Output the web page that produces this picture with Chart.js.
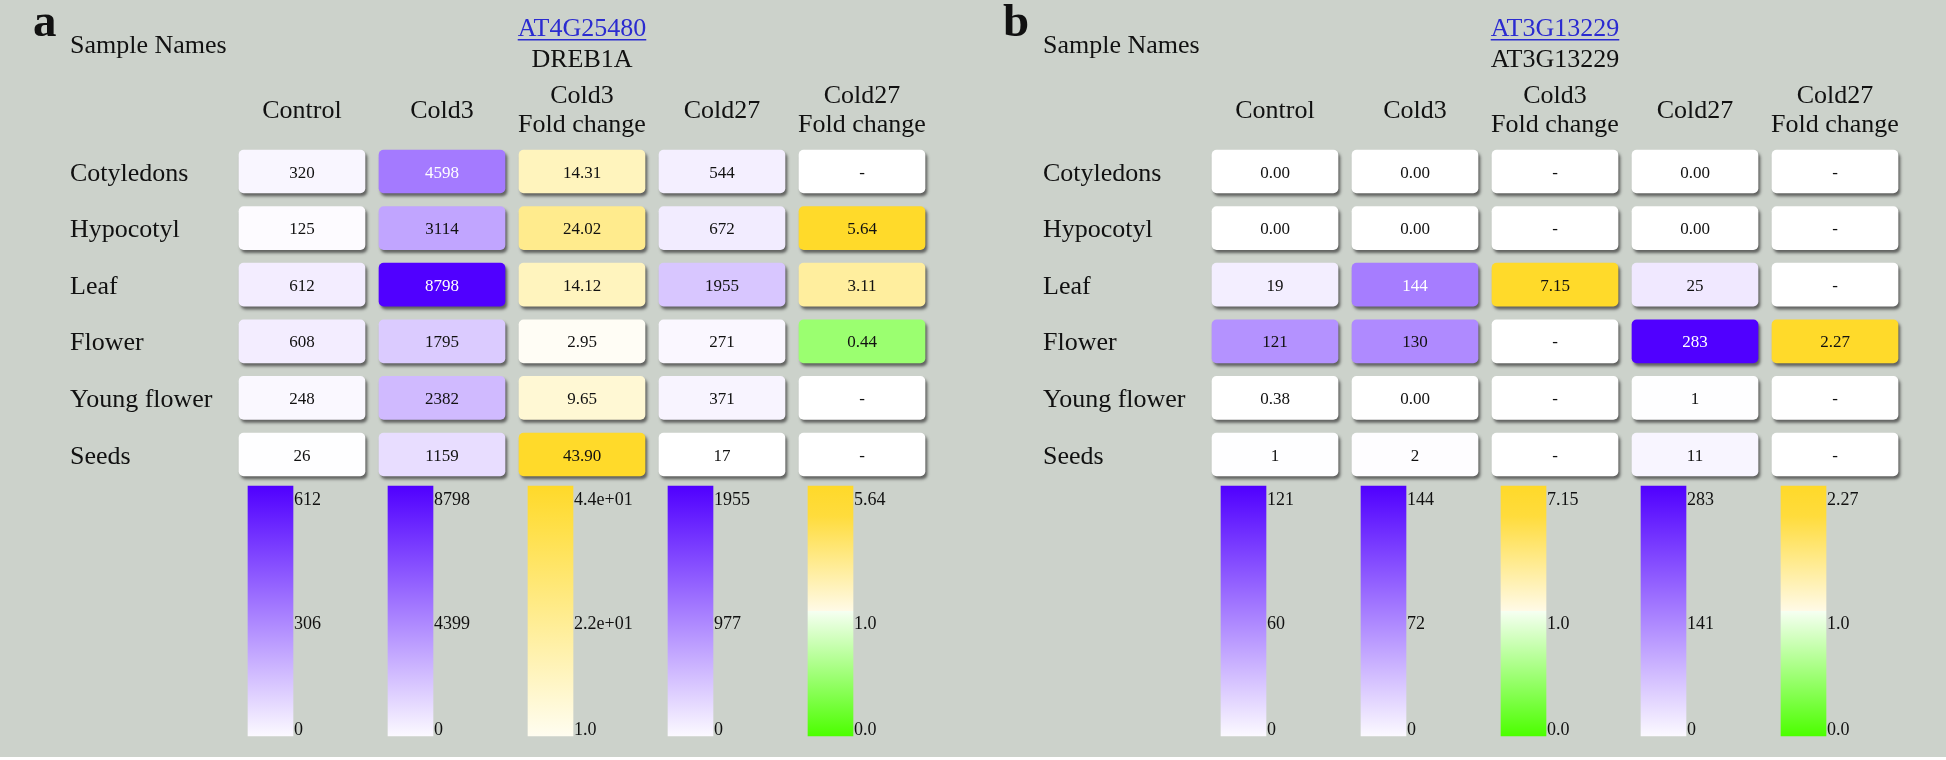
<!DOCTYPE html>
<html>
<head>
<meta charset="utf-8">
<script src="https://cdn.jsdelivr.net/npm/chart.js@4.4.1/dist/chart.umd.min.js"></script>
<style>
  body { margin: 0; background: #fff; }
  #wrap { display: flex; width: 1946px; height: 757px; background: #ccd2cb; }
  canvas { display: block; }
</style>
</head>
<body>
<div id="wrap">
  <canvas id="panelA" width="973" height="757"></canvas>
  <canvas id="panelB" width="973" height="757"></canvas>
</div>
<script>
const rowNames = ["Cotyledons", "Hypocotyl", "Leaf", "Flower", "Young flower", "Seeds"];
const columnHeaders = [["Control"], ["Cold3"], ["Cold3", "Fold change"], ["Cold27"], ["Cold27", "Fold change"]];
const columnKinds = ["raw", "raw", "fold", "raw", "fold"];

// panel a - AT4G25480 / DREB1A
const geneA = ["AT4G25480", "DREB1A"];
const controlA = [320, 125, 612, 608, 248, 26];
const cold3A = [4598, 3114, 8798, 1795, 2382, 1159];
const cold3FoldA = [14.31, 24.02, 14.12, 2.95, 9.65, 43.90];
const cold27A = [544, 672, 1955, 271, 371, 17];
const cold27FoldA = [null, 5.64, 3.11, 0.44, null, null];
const ticksA = [["612", "306", "0"], ["8798", "4399", "0"], ["4.4e+01", "2.2e+01", "1.0"], ["1955", "977", "0"], ["5.64", "1.0", "0.0"]];

// panel b - AT3G13229
const geneB = ["AT3G13229", "AT3G13229"];
const controlB = [0.00, 0.00, 19, 121, 0.38, 1];
const cold3B = [0.00, 0.00, 144, 130, 0.00, 2];
const cold3FoldB = [null, null, 7.15, null, null, null];
const cold27B = [0.00, 0.00, 25, 283, 1, 11];
const cold27FoldB = [null, null, null, 2.27, null, null];
const ticksB = [["121", "60", "0"], ["144", "72", "0"], ["7.15", "1.0", "0.0"], ["283", "141", "0"], ["2.27", "1.0", "0.0"]];

const SERIF = '"Liberation Serif", "Times New Roman", serif';
const PURPLE = [80, 0, 255];
const GOLD = [255, 218, 42];
const GREEN = [76, 255, 0];
const CELL_HALF = 0.38;
const CB_TOP = 5.56, CB_BOTTOM = 9.97, CB_SHIFT = 0.225;

function mix(c, f) {
  f = Math.max(0, Math.min(1, f));
  return 'rgb(' + c.map(v => Math.round(255 - f * (255 - v))).join(',') + ')';
}

function fmt(v, kind) {
  if (v === null) return '-';
  if (kind === 'fold') return v.toFixed(2);
  return v < 1 ? v.toFixed(2) : String(Math.round(v));
}

const panelText = {
  id: 'panelText',
  beforeDatasetDraw(chart, args) {
    if (chart.data.datasets[args.index].role !== 'cell') return;
    const ctx = chart.ctx;
    ctx.save();
    ctx.shadowColor = 'rgba(60,60,60,0.75)';
    ctx.shadowBlur = 3;
    ctx.shadowOffsetX = 2;
    ctx.shadowOffsetY = 3;
  },
  afterDatasetDraw(chart, args) {
    if (chart.data.datasets[args.index].role !== 'cell') return;
    chart.ctx.restore();
  },
  afterDatasetsDraw(chart) {
    const ctx = chart.ctx;
    ctx.save();
    chart.data.datasets.forEach((ds, i) => {
      const meta = chart.getDatasetMeta(i);
      if (ds.role === 'cell') {
        ctx.font = '17px ' + SERIF;
        ctx.textAlign = 'center';
        ctx.textBaseline = 'alphabetic';
        meta.data.forEach((el, r) => {
          const p = el.getCenterPoint();
          ctx.fillStyle = ds.textColors[r];
          ctx.fillText(ds.valueLabels[r], p.x, p.y + 6);
        });
      } else if (ds.role === 'legend') {
        ctx.font = '18px ' + SERIF;
        ctx.textAlign = 'left';
        ctx.fillStyle = '#111';
        meta.data.forEach((el, c) => {
          const p = el.getProps(['x', 'y', 'base', 'width'], true);
          const top = Math.min(p.y, p.base), bot = Math.max(p.y, p.base);
          const lx = p.x + p.width / 2 + 1;
          const t = ds.tickLabels[c];
          ctx.fillText(t[0], lx, top + 19);
          ctx.fillText(t[1], lx, (top + bot) / 2 + 18);
          ctx.fillText(t[2], lx, bot - 1);
        });
      }
    });
    ctx.restore();
  },
  afterDraw(chart, args, opts) {
    const ctx = chart.ctx;
    const x = chart.scales.x, y = chart.scales.y;
    ctx.save();
    ctx.fillStyle = '#111';
    ctx.textBaseline = 'alphabetic';
    ctx.textAlign = 'left';
    ctx.font = 'bold 47px ' + SERIF;
    ctx.fillText(opts.letter, opts.letterX, 36);
    ctx.font = '26px ' + SERIF;
    ctx.fillText('Sample Names', 70, 53);

    const gx = x.getPixelForValue(2);
    ctx.textAlign = 'center';
    ctx.fillStyle = '#2b2bd0';
    ctx.fillText(opts.gene[0], gx, 36);
    const w = ctx.measureText(opts.gene[0]).width;
    ctx.fillRect(gx - w / 2, 39, w, 1.5);
    ctx.fillStyle = '#111';
    ctx.fillText(opts.gene[1], gx, 67);

    columnHeaders.forEach((lines, c) => {
      const cx = x.getPixelForValue(c);
      if (lines.length === 1) {
        ctx.fillText(lines[0], cx, 118);
      } else {
        ctx.fillText(lines[0], cx, 103);
        ctx.fillText(lines[1], cx, 132);
      }
    });

    ctx.textAlign = 'left';
    rowNames.forEach((name, r) => ctx.fillText(name, 70, y.getPixelForValue(r) + 9));
    ctx.restore();
  }
};

function legendFill(kinds) {
  return (context) => {
    const chart = context.chart;
    const ys = chart.scales && chart.scales.y;
    if (!chart.chartArea || !ys) return '#fff';
    const top = ys.getPixelForValue(CB_TOP), bot = ys.getPixelForValue(CB_BOTTOM);
    const g = chart.ctx.createLinearGradient(0, top, 0, bot);
    const k = kinds[context.dataIndex];
    if (k === 'purple') {
      g.addColorStop(0, '#5000ff');
      g.addColorStop(1, '#fbf9ff');
    } else if (k === 'yellow') {
      g.addColorStop(0, '#ffd92a');
      g.addColorStop(0.15, '#ffdf45');
      g.addColorStop(1, '#fffdf0');
    } else {
      g.addColorStop(0, '#ffd92a');
      g.addColorStop(0.12, '#ffdc3c');
      g.addColorStop(0.499, '#fffae6');
      g.addColorStop(0.5, '#f6fff2');
      g.addColorStop(1, '#4cff00');
    }
    return g;
  };
}

function buildPanel(canvasId, letter, letterX, gene, cols, ticks) {
  const rawMax = Math.max(...cols.filter((_, c) => columnKinds[c] === 'raw').flat());
  const datasets = cols.map((vals, c) => {
    const kind = columnKinds[c];
    const colMax = Math.max(...vals.filter(v => v !== null));
    const fracs = vals.map(v => {
      if (v === null) return 0;
      if (kind === 'raw') return v / rawMax;
      return v >= 1 ? (v - 1) / (colMax - 1) : 1 - v;
    });
    return {
      role: 'cell',
      label: columnHeaders[c].join(' '),
      data: vals.map((v, r) => ({ x: c, y: [r - CELL_HALF, r + CELL_HALF] })),
      backgroundColor: vals.map((v, r) => {
        if (v === null) return '#ffffff';
        if (kind === 'raw') return mix(PURPLE, fracs[r]);
        return v >= 1 ? mix(GOLD, fracs[r]) : mix(GREEN, fracs[r]);
      }),
      textColors: vals.map((v, r) => (kind === 'raw' && fracs[r] > 0.5) ? '#ffffff' : '#111111'),
      valueLabels: vals.map(v => fmt(v, kind)),
      barThickness: 126,
      borderRadius: 5,
      xAxisID: 'x'
    };
  });
  const legendKinds = columnKinds.map((k, c) => k === 'raw' ? 'purple' : (ticks[c][2] === '0.0' ? 'split' : 'yellow'));
  datasets.push({
    role: 'legend',
    label: 'scale',
    data: ticks.map((t, c) => ({ x: c, y: [CB_TOP, CB_BOTTOM] })),
    backgroundColor: legendFill(legendKinds),
    tickLabels: ticks,
    barThickness: 45,
    borderRadius: 0,
    xAxisID: 'xcb'
  });

  return new Chart(document.getElementById(canvasId), {
    type: 'bar',
    data: { datasets },
    options: {
      responsive: false,
      animation: false,
      events: [],
      layout: { padding: { left: 232, right: 41, top: 30, bottom: 19.5 } },
      datasets: { bar: { grouped: false, borderSkipped: false, borderWidth: 0, clip: false } },
      scales: {
        x: { type: 'linear', offset: false, grid: { offset: false }, min: -0.5, max: 4.5, display: false },
        xcb: { type: 'linear', axis: 'x', offset: false, grid: { offset: false }, min: -0.5 + CB_SHIFT, max: 4.5 + CB_SHIFT, display: false },
        y: { type: 'linear', min: -2.5, max: 10, reverse: true, display: false }
      },
      plugins: {
        legend: { display: false },
        tooltip: { enabled: false },
        panelText: { letter, letterX, gene }
      }
    },
    plugins: [panelText]
  });
}

buildPanel('panelA', 'a', 33, geneA, [controlA, cold3A, cold3FoldA, cold27A, cold27FoldA], ticksA);
buildPanel('panelB', 'b', 30, geneB, [controlB, cold3B, cold3FoldB, cold27B, cold27FoldB], ticksB);
</script>
</body>
</html>
